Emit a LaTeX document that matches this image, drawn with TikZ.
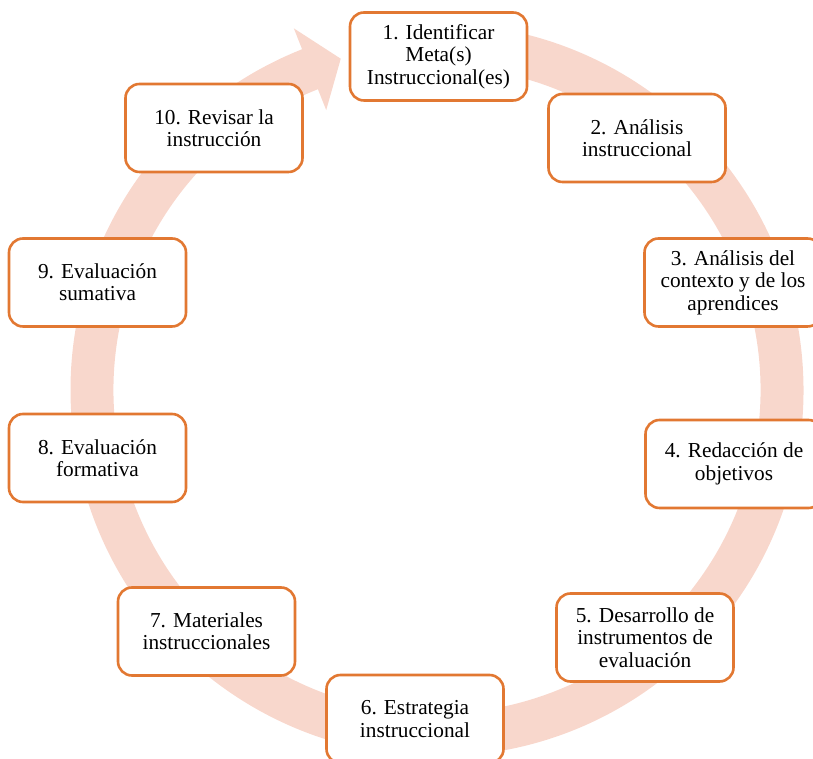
\documentclass[tikz,border=0pt]{standalone}
\usepackage{fontspec}
\setmainfont{Liberation Serif}
\usepackage{tikz}
\definecolor{bandpeach}{RGB}{248,215,204}
\definecolor{boxorange}{RGB}{226,120,50}

\begin{document}
\begin{tikzpicture}[x=1pt, y=1pt,
                    stage/.style={rectangle, rounded corners=14pt, draw=boxorange, line width=2.6pt, fill=white,
                                  minimum width=177pt, minimum height=88pt, align=center, inner sep=2pt,
                                  font=\fontsize{21.3}{22.4}\selectfont},
                    band/.style={fill=bandpeach}]

            \useasboundingbox (0,0) rectangle (813,759);
            \clip (0,0) rectangle (813,759);

            % circular arrow
            \begin{scope}[shift={(437,369)}]
                \fill[band] (95:366.5) arc[start angle=95, end angle=-248.4, radius=366.5]
                    -- (111.6:389) -- (106.2:345) -- (111.6:301) -- (111.6:323.5)
                    arc[start angle=111.6, end angle=455, radius=323.5] -- cycle;
            \end{scope}

            \node[stage] (s1)  at (438.5,702.5) {1. Identificar\\Meta(s)\\Instruccional(es)};
            \node[stage] (s2)  at (637,621)     {2. Análisis\\instruccional};
            \node[stage] (s3)  at (733,476.5)   {3. Análisis del\\contexto y de los\\aprendices};
            \node[stage] (s4)  at (734,295)     {4. Redacción de\\objetivos};
            \node[stage] (s5)  at (645,121.5)   {5. Desarrollo de\\instrumentos de\\evaluación};
            \node[stage] (s6)  at (415,40)      {6. Estrategia\\instruccional};
            \node[stage] (s7)  at (206.5,127.5) {7. Materiales\\instruccionales};
            \node[stage] (s8)  at (97.5,301)    {8. Evaluación\\formativa};
            \node[stage] (s9)  at (97.5,476.5)  {9. Evaluación\\sumativa};
            \node[stage] (s10) at (214,631)     {10. Revisar la\\instrucción};
        \end{tikzpicture}
\end{document}
